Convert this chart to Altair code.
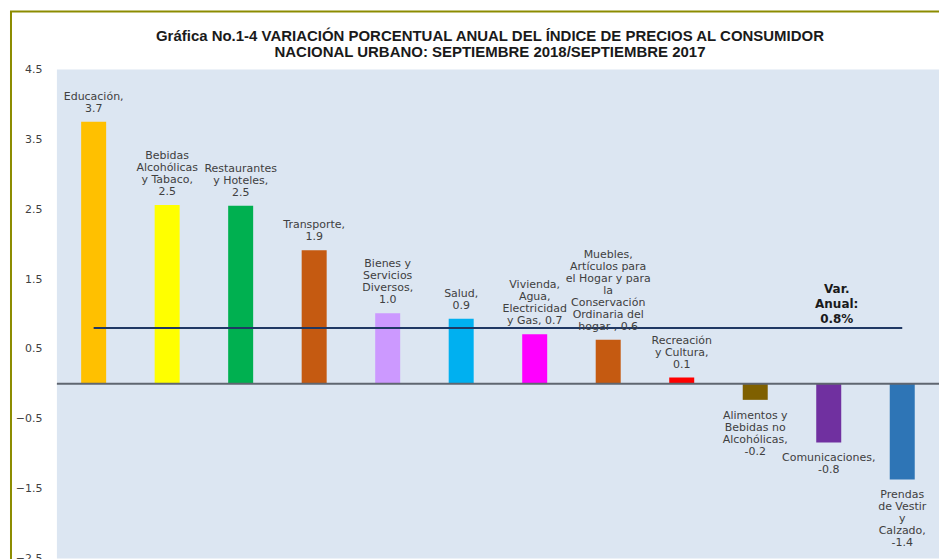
import altair as alt
import pandas as pd

categorias = [
    "Educación",
    "Bebidas Alcohólicas y Tabaco",
    "Restaurantes y Hoteles",
    "Transporte",
    "Bienes y Servicios Diversos",
    "Salud",
    "Vivienda, Agua, Electricidad y Gas",
    "Muebles, Artículos para el Hogar y para la Conservación Ordinaria del hogar",
    "Recreación y Cultura",
    "Alimentos y Bebidas no Alcohólicas",
    "Comunicaciones",
    "Prendas de Vestir y Calzado",
]
valores = [3.75, 2.56, 2.55, 1.91, 1.01, 0.93, 0.71, 0.63, 0.09, -0.23, -0.84, -1.37]
etiquetas = [
    ["Educación,", "3.7"],
    ["Bebidas", "Alcohólicas", "y Tabaco,", "2.5"],
    ["Restaurantes", "y Hoteles,", "2.5"],
    ["Transporte,", "1.9"],
    ["Bienes y", "Servicios", "Diversos,", "1.0"],
    ["Salud,", "0.9"],
    ["Vivienda,", "Agua,", "Electricidad", "y Gas, 0.7"],
    ["Muebles,", "Artículos para", "el Hogar y para", "la", "Conservación", "Ordinaria del", "hogar , 0.6"],
    ["Recreación", "y Cultura,", "0.1"],
    ["Alimentos y", "Bebidas no", "Alcohólicas,", "-0.2"],
    ["Comunicaciones,", "-0.8"],
    ["Prendas", "de Vestir", "y", "Calzado,", "-1.4"],
]
colores = [
    "#FFC000", "#FFFF00", "#00B050", "#C55A11", "#CC99FF", "#00B0F0",
    "#FF00FF", "#C55A11", "#FF0000", "#7F6000", "#7030A0", "#2E75B6",
]
var_anual = 0.8
var_anual_texto = ["Var.", "Anual:", "0.8%"]
y_ticks = [-2.5, -1.5, -0.5, 0.5, 1.5, 2.5, 3.5, 4.5]
titulo = [
    "Gráfica No.1-4 VARIACIÓN PORCENTUAL ANUAL DEL ÍNDICE DE PRECIOS AL CONSUMIDOR",
    "NACIONAL URBANO: SEPTIEMBRE 2018/SEPTIEMBRE 2017",
]

df = pd.DataFrame({
    "cat": categorias,
    "valor": valores,
    "etiqueta": etiquetas,
    "nlineas": [len(e) for e in etiquetas],
    "color": colores,
    "anual": [var_anual] * len(categorias),
})

W, H = 884, 490
LH = 12

x_enc = alt.X("cat:N", sort=None, axis=None,
              scale=alt.Scale(domain=categorias, paddingInner=0.66, paddingOuter=0.33))
y_scale = alt.Scale(domain=[-2.5, 4.5], nice=False, zero=False)
y_axis = alt.Axis(values=y_ticks, format=".1f", grid=False, domain=False,
                  ticks=False, labelPadding=15, title=None,
                  labelFont="DejaVu Sans", labelFontSize=11,
                  labelColor="#404040")


def yq(field):
    return alt.Y(field, type="quantitative", scale=y_scale, axis=y_axis, title=None)


base = alt.Chart(df)

bars = base.mark_bar().encode(
    x=x_enc, y=yq("valor"), color=alt.Color("color:N", scale=None)
)

zero = alt.Chart(pd.DataFrame({"valor": [0]})).mark_rule(color="#5F6670", strokeWidth=2).encode(
    y=yq("valor"), x=alt.value(0), x2=alt.value(W)
)

ref = base.mark_line(color="#1F3864", strokeWidth=2).encode(
    x=x_enc, y=yq("anual")
)

lbl_style = dict(font="DejaVu Sans", fontSize=11, lineHeight=LH, color="#404040", align="center")

# positive labels: one layer per line count so the block sits above the bar
pos_layers = []
for n in sorted(set(len(e) for e, v in zip(etiquetas, valores) if v >= 0)):
    pos_layers.append(
        base.transform_filter(f"datum.valor >= 0 && datum.nlineas == {n}").mark_text(
            baseline="bottom", dy=-8 - (n - 1) * LH, **lbl_style
        ).encode(x=x_enc, y=yq("valor"), text="etiqueta")
    )

lbl_neg = base.transform_filter("datum.valor < 0").mark_text(
    baseline="top", dy=10, **lbl_style
).encode(x=x_enc, y=yq("valor"), text="etiqueta")

anual_df = pd.DataFrame({"cat": ["Comunicaciones"], "anual": [var_anual], "t": [var_anual_texto]})
anual_lbl = alt.Chart(anual_df).mark_text(
    font="DejaVu Sans", fontSize=12, fontWeight="bold", lineHeight=15,
    color="#1a1a1a", baseline="bottom", align="center",
    dy=-2 - 15 * (len(var_anual_texto) - 1), dx=8
).encode(x=x_enc, y=yq("anual"), text="t")

frame_df = pd.DataFrame({"a": [0]})
frame_left = alt.Chart(frame_df).mark_rule(color="#8C8C00", strokeWidth=2).encode(
    x=alt.value(-46), y=alt.value(-58), y2=alt.value(H + 10)
)
frame_top = alt.Chart(frame_df).mark_rule(color="#8C8C00", strokeWidth=2).encode(
    x=alt.value(-47), x2=alt.value(W + 20), y=alt.value(-58)
)

chart = alt.layer(bars, zero, ref, *pos_layers, lbl_neg, anual_lbl, frame_left, frame_top).properties(
    width=W, height=H,
    title=alt.Title(text=titulo, font="Liberation Sans", fontSize=15, fontWeight="bold",
                    color="#1a1a1a", lineHeight=17, anchor="middle", frame="group",
                    dx=-8, offset=-50),
    autosize=alt.AutoSizeParams(type="none"),
    padding={"left": 49, "top": 61, "right": 0, "bottom": 0},
).configure_view(fill="#DCE6F2", strokeWidth=0)

chart.save("out.html", embed_options={"renderer": "svg", "actions": False})
